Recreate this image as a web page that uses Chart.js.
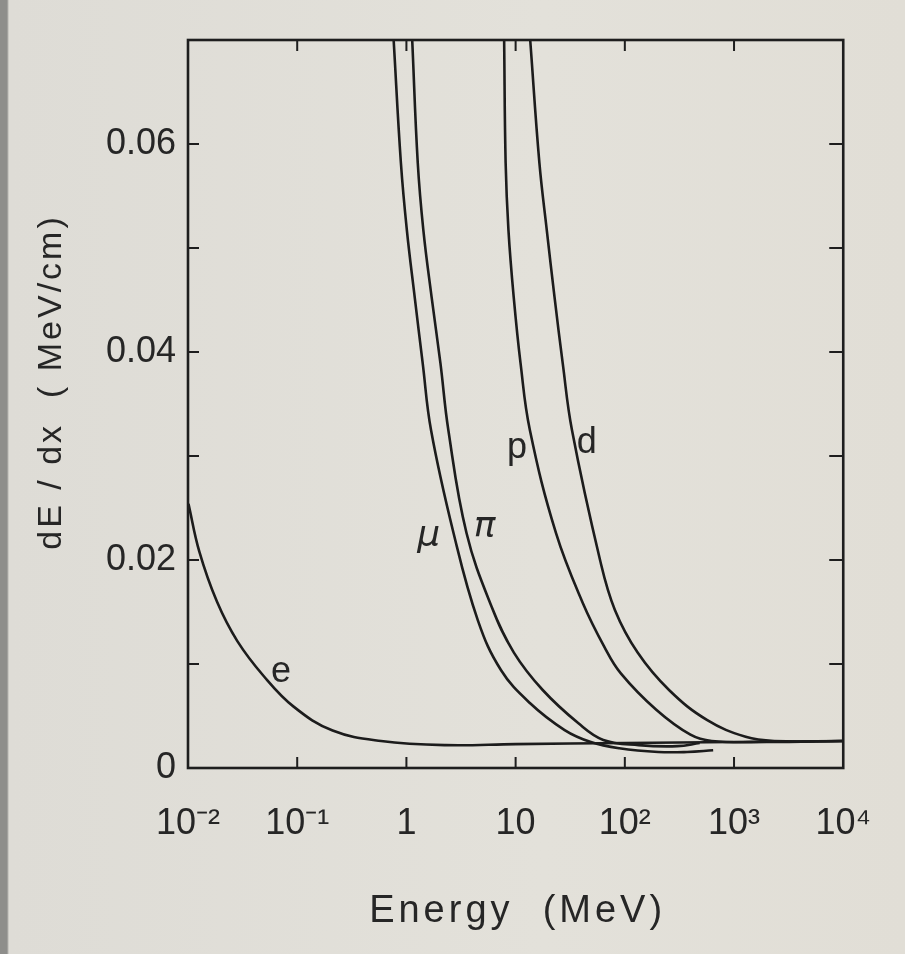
<!DOCTYPE html>
<html>
<head>
<meta charset="utf-8">
<script src="https://cdn.jsdelivr.net/npm/chart.js@4.4.1/dist/chart.umd.min.js"></script>
<style>
  html, body { margin: 0; padding: 0; }
  body {
    width: 905px; height: 954px; overflow: hidden;
    background: linear-gradient(to right, #8e8e8b 0px, #8e8e8b 7px, #dedcd6 9px, #e3e1da 60%, #e1ded6 100%);
  }
  canvas { display: block; }
</style>
</head>
<body>
<canvas id="c" width="905" height="954"></canvas>
<script>
// ---- data (energy in MeV, dE/dx in MeV/cm) ----
const eEnergy  = [0.0101, 0.0127, 0.0184, 0.0283, 0.0497, 0.0927, 0.211, 0.586, 2.28, 10, 100, 1000, 10000];
const eDedx    = [0.0254, 0.0208, 0.0160, 0.0122, 0.0088, 0.0059, 0.0036, 0.0026, 0.0022, 0.0023, 0.0024, 0.0025, 0.0026];

const muEnergy = [0.764, 0.89, 1.01, 1.19, 1.41, 1.68, 2.70, 4.51, 7.36, 13.5, 28.1, 48.8, 89, 202, 372, 644];
const muDedx   = [0.070, 0.0582, 0.0517, 0.0453, 0.0389, 0.0325, 0.0226, 0.0142, 0.0094, 0.00625, 0.00365, 0.0025, 0.0019, 0.00154, 0.00154, 0.0017];

const piEnergy = [1.13, 1.27, 1.43, 1.70, 2.05, 2.42, 3.55, 6.03, 9.64, 17.7, 37.6, 63.5, 134, 302, 485];
const piDedx   = [0.070, 0.0582, 0.0517, 0.0453, 0.0389, 0.0325, 0.0226, 0.0155, 0.0111, 0.0075, 0.0043, 0.0027, 0.0022, 0.0021, 0.0024];

const pEnergy  = [7.85, 8.10, 8.60, 9.60, 11.1, 13.5, 23.4, 41.1, 65.3, 91.9, 194, 399, 625, 2000, 10000];
const pDedx    = [0.070, 0.0582, 0.0517, 0.0453, 0.0389, 0.0325, 0.0226, 0.0159, 0.0116, 0.0091, 0.0056, 0.0032, 0.0026, 0.0025, 0.0026];

const dEnergy  = [13.6, 16.5, 19.3, 22.7, 27.0, 32.8, 59.3, 81.1, 131, 254, 569, 1277, 2330, 10000];
const dDedx    = [0.070, 0.0582, 0.0517, 0.0453, 0.0389, 0.0325, 0.0200, 0.0152, 0.0111, 0.0075, 0.0046, 0.0030, 0.0026, 0.0026];

// curve labels and where they sit (data units)
const curveLabels = ['e', 'μ', 'π', 'p', 'd'];
const labelEnergy = [0.071, 1.6, 5.2, 10.3, 44.8];
const labelDedx   = [0.0092, 0.0222, 0.0231, 0.0308, 0.0312];

// axes
const xTickValues = [0.01, 0.1, 1, 10, 100, 1000, 10000];
const xTickLabels = ['10⁻²', '10⁻¹', '1', '10', '10²', '10³', '10⁴'];
const yTickValues = [0, 0.01, 0.02, 0.03, 0.04, 0.05, 0.06, 0.07];
const yTickLabels = ['0', '', '0.02', '', '0.04', '', '0.06', ''];
const xTitle = 'Energy  (MeV)';
const yTitle = 'dE / dx  ( MeV/cm)';

const INK = '#262626';
const zip = (xs, ys) => xs.map((x, i) => ({ x: x, y: ys[i] }));
const mk = (xs, ys) => ({
  data: zip(xs, ys), borderColor: '#1c1c1c', borderWidth: 2.6, pointRadius: 0,
  fill: false, tension: 0.4
});

const decor = {
  id: 'decor',
  afterDatasetsDraw(chart) {
    const ctx = chart.ctx, a = chart.chartArea;
    const xs = chart.scales.x, ys = chart.scales.y;
    ctx.save();
    ctx.strokeStyle = '#1e1e1e';
    ctx.lineWidth = 2.6;
    ctx.strokeRect(a.left, a.top, a.right - a.left, a.bottom - a.top);
    ctx.lineWidth = 2;
    const tl = 11;
    xTickValues.forEach(v => {
      const px = xs.getPixelForValue(v);
      if (px <= a.left + 1 || px >= a.right - 1) return;
      ctx.beginPath();
      ctx.moveTo(px, a.bottom); ctx.lineTo(px, a.bottom - tl);
      ctx.moveTo(px, a.top); ctx.lineTo(px, a.top + tl);
      ctx.stroke();
    });
    yTickValues.forEach(v => {
      const py = ys.getPixelForValue(v);
      if (py >= a.bottom - 1 || py <= a.top + 1) return;
      ctx.beginPath();
      ctx.moveTo(a.left, py); ctx.lineTo(a.left + tl, py);
      ctx.moveTo(a.right, py); ctx.lineTo(a.right - 14, py);
      ctx.stroke();
    });
    // curve labels
    ctx.fillStyle = INK;
    ctx.textAlign = 'center';
    ctx.textBaseline = 'middle';
    curveLabels.forEach((t, i) => {
      const greek = (t === 'μ' || t === 'π');
      ctx.font = greek ? 'italic 36px "DejaVu Sans"' : '36px "Liberation Sans"';
      ctx.fillText(t, xs.getPixelForValue(labelEnergy[i]), ys.getPixelForValue(labelDedx[i]));
    });
    // axis titles
    ctx.font = '38px "Liberation Sans"';
    ctx.letterSpacing = '4px';
    ctx.fillText(xTitle, (a.left + a.right) / 2 + 2, 912);
    ctx.translate(52, 382);
    ctx.rotate(-Math.PI / 2);
    ctx.font = '34px "Liberation Sans"';
    ctx.letterSpacing = '3px';
    ctx.fillText(yTitle, 0, 0);
    ctx.restore();
  }
};

new Chart(document.getElementById('c'), {
  type: 'line',
  data: {
    datasets: [
      mk(eEnergy, eDedx), mk(muEnergy, muDedx), mk(piEnergy, piDedx),
      mk(pEnergy, pDedx), mk(dEnergy, dDedx)
    ]
  },
  options: {
    responsive: false,
    animation: false,
    devicePixelRatio: 1,
    layout: { padding: { left: 0, top: 40, right: 49, bottom: 0 } },
    plugins: { legend: { display: false }, tooltip: { enabled: false }, title: { display: false } },
    scales: {
      x: {
        type: 'logarithmic', min: 0.01, max: 10000,
        afterBuildTicks: s => { s.ticks = xTickValues.map(v => ({ value: v })); },
        afterFit: s => { s.height = 186; },
        grid: { display: false, drawTicks: false },
        border: { display: false },
        ticks: {
          autoSkip: false, maxRotation: 0, padding: 34,
          color: INK, font: { family: 'Liberation Sans', size: 36 },
          callback: (v, i) => xTickLabels[i]
        }
      },
      y: {
        min: 0, max: 0.07,
        afterBuildTicks: s => { s.ticks = yTickValues.map(v => ({ value: v })); },
        afterFit: s => { s.width = 188; },
        grid: { display: false, drawTicks: false },
        border: { display: false },
        ticks: {
          autoSkip: false, padding: 12,
          color: INK, font: { family: 'Liberation Sans', size: 36 },
          callback: (v, i) => yTickLabels[i]
        }
      }
    }
  },
  plugins: [decor]
});
</script>
</body>
</html>
